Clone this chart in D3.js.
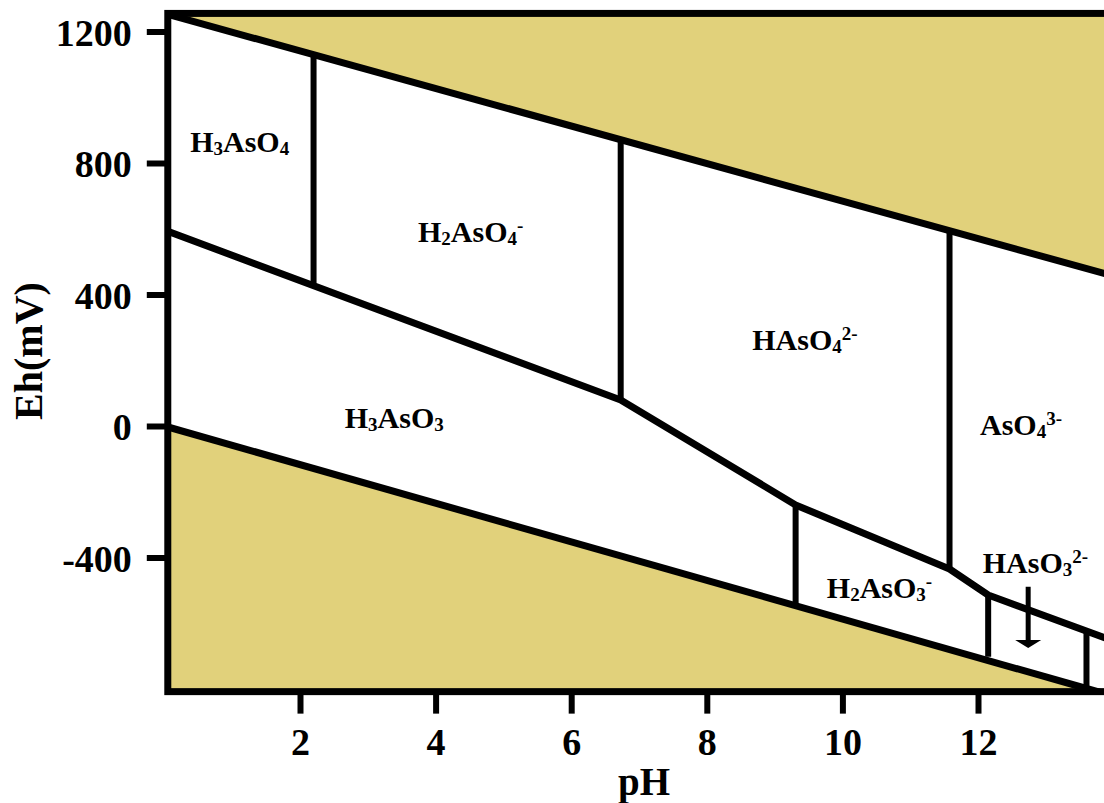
<!DOCTYPE html>
<html>
<head>
<meta charset="utf-8">
<style>
  body { margin: 0; background: #fff; }
  text { font-family: "Liberation Serif", "Times New Roman", serif; font-weight: bold; fill: #000; }
</style>
</head>
<body>
<div id="chart"></div>
<script src="https://d3js.org/d3.v7.min.js"></script>
<script>
// water stability limits (pH, Eh mV)
var upperWater = [[0, 1255], [14, 456]];
var lowerWater = [[0, 0], [14, -822]];

// As(V) / As(III) boundary
var redoxBoundary = [[0, 596], [6.73, 79], [9.31, -240], [11.58, -435], [12.15, -514], [13.95, -650]];

// acid/base boundaries: pH, Eh top, Eh bottom
var acidBase = [
  [2.2, 1137, 435],
  [6.73, 869, 79],
  [11.58, 590, -435],
  [9.31, -240, -544],
  [12.15, -514, -702],
  [13.6, -625, -808]
];

// species labels, anchored at left baseline (pH, Eh)
var species = [
  { pH: 0.38, Eh: 833, parts: [["H"], ["3", "sub"], ["AsO"], ["4", "sub"]] },
  { pH: 3.74, Eh: 559, parts: [["H"], ["2", "sub"], ["AsO"], ["4", "sub"], ["-", "sup"]] },
  { pH: 8.67, Eh: 231, parts: [["HAsO"], ["4", "sub"], ["2-", "sup"]] },
  { pH: 2.66, Eh: -6, parts: [["H"], ["3", "sub"], ["AsO"], ["3", "sub"]] },
  { pH: 12.03, Eh: -27, parts: [["AsO"], ["4", "sub"], ["3-", "sup"]] },
  { pH: 9.77, Eh: -523, parts: [["H"], ["2", "sub"], ["AsO"], ["3", "sub"], ["-", "sup"]] },
  { pH: 12.07, Eh: -447, parts: [["HAsO"], ["3", "sub"], ["2-", "sup"]] }
];
var arrowPH = 12.74, arrowEh = [-489, -675];

var xTicks = [2, 4, 6, 8, 10, 12];
var yTicks = [-400, 0, 400, 800, 1200];
var pHMin = 0.05, pHMax = 13.95, EhMin = -808, EhMax = 1255;

var width = 1104, height = 803;
var fillColor = "#e1d17b";

var x = d3.scaleLinear().domain([2, 12]).range([300, 978]);
var y = d3.scaleLinear().domain([0, 1200]).range([426, 31.5]);

var svg = d3.select("#chart").append("svg")
  .attr("width", width)
  .attr("height", height);

svg.append("clipPath").attr("id", "plotClip")
  .append("rect")
  .attr("x", x(pHMin)).attr("y", y(EhMax))
  .attr("width", x(pHMax) - x(pHMin))
  .attr("height", y(EhMin) - y(EhMax));

var plot = svg.append("g").attr("clip-path", "url(#plotClip)");

// shaded areas outside water stability
plot.append("path")
  .datum(upperWater)
  .attr("fill", fillColor)
  .attr("d", d3.area()
    .x(function(d) { return x(d[0]); })
    .y0(y(EhMax) - 10)
    .y1(function(d) { return y(d[1]); }));

plot.append("path")
  .datum(lowerWater)
  .attr("fill", fillColor)
  .attr("d", d3.area()
    .x(function(d) { return x(d[0]); })
    .y0(y(EhMin) + 10)
    .y1(function(d) { return y(d[1]); }));

var line = d3.line()
  .x(function(d) { return x(d[0]); })
  .y(function(d) { return y(d[1]); });

[upperWater, lowerWater, redoxBoundary].forEach(function(pts) {
  plot.append("path")
    .datum(pts)
    .attr("fill", "none")
    .attr("stroke", "#000")
    .attr("stroke-width", 7)
    .attr("stroke-linejoin", "round")
    .attr("d", line);
});

plot.selectAll(".vert")
  .data(acidBase)
  .enter().append("line")
  .attr("class", "vert")
  .attr("x1", function(d) { return x(d[0]); })
  .attr("x2", function(d) { return x(d[0]); })
  .attr("y1", function(d) { return y(d[1]); })
  .attr("y2", function(d) { return y(d[2]); })
  .attr("stroke", "#000")
  .attr("stroke-width", 6);

// frame
svg.append("rect")
  .attr("x", x(pHMin)).attr("y", y(EhMax))
  .attr("width", x(pHMax) - x(pHMin))
  .attr("height", y(EhMin) - y(EhMax))
  .attr("fill", "none")
  .attr("stroke", "#000")
  .attr("stroke-width", 7);

// axes
var plain = function(d) { return String(d); };
var yAxis = svg.append("g")
  .attr("transform", "translate(" + x(pHMin) + ",0)")
  .call(d3.axisLeft(y).tickValues(yTicks).tickFormat(plain).tickSize(21).tickPadding(15));
var xAxis = svg.append("g")
  .attr("transform", "translate(0," + y(EhMin) + ")")
  .call(d3.axisBottom(x).tickValues(xTicks).tickFormat(plain).tickSize(22));

[xAxis, yAxis].forEach(function(ax) {
  ax.attr("font-family", null).attr("font-size", null);
  ax.select(".domain").remove();
  ax.selectAll(".tick line").attr("stroke", "#000").attr("stroke-width", 6);
  ax.selectAll(".tick text")
    .style("font-family", "'Liberation Serif', 'Times New Roman', serif")
    .style("font-weight", "bold")
    .style("font-size", "38px")
    .attr("fill", "#000");
});
xAxis.selectAll(".tick text").attr("y", 63).attr("dy", 0);
yAxis.selectAll(".tick text").attr("dy", "0.36em");

// axis titles
svg.append("text")
  .attr("transform", "translate(42,351) rotate(-90)")
  .attr("text-anchor", "middle")
  .style("font-size", "40px")
  .text("Eh(mV)");

svg.append("text")
  .attr("x", 644).attr("y", 795)
  .attr("text-anchor", "middle")
  .style("font-size", "39px")
  .text("pH");

// species labels
species.forEach(function(s) {
  var t = svg.append("text")
    .attr("x", x(s.pH))
    .attr("y", y(s.Eh))
    .style("font-size", "30px");
  var shift = 0;
  s.parts.forEach(function(p) {
    var ts = t.append("tspan").text(p[0]);
    var target = 0;
    if (p[1] === "sub") { ts.style("font-size", "19px"); target = 3; }
    else if (p[1] === "sup") { ts.style("font-size", "19px"); target = -10; }
    ts.attr("dy", target - shift);
    shift = target;
  });
});

// arrow pointing into HAsO3 2- field
svg.append("line")
  .attr("x1", x(arrowPH)).attr("x2", x(arrowPH))
  .attr("y1", y(arrowEh[0])).attr("y2", y(arrowEh[1]) - 6)
  .attr("stroke", "#000")
  .attr("stroke-width", 5);

svg.append("path")
  .attr("d", "M" + (x(arrowPH) - 13) + "," + (y(arrowEh[1]) - 8) +
    "L" + (x(arrowPH) + 13) + "," + (y(arrowEh[1]) - 8) +
    "L" + x(arrowPH) + "," + y(arrowEh[1]) + "Z")
  .attr("fill", "#000");
</script>
</body>
</html>
